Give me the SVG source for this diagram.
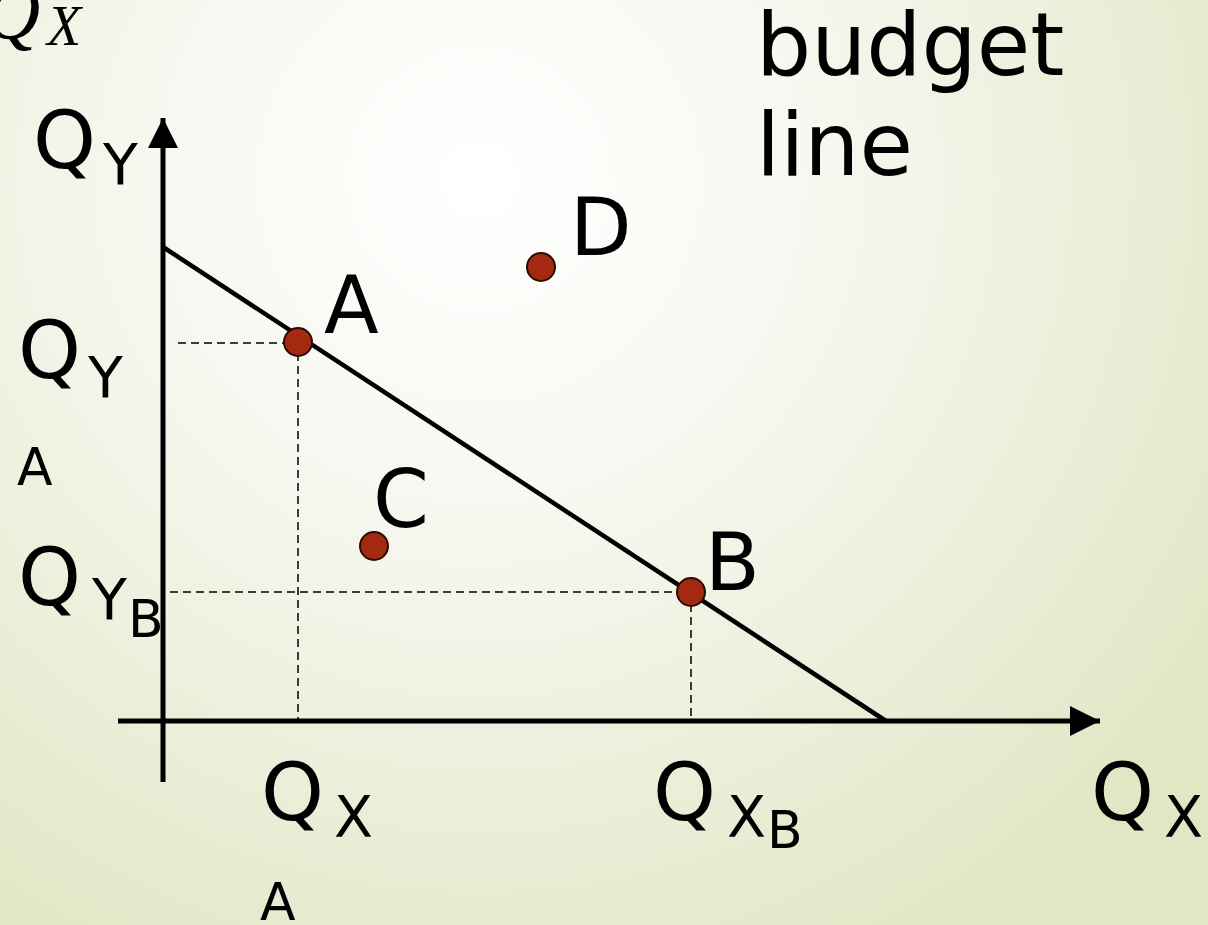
<svg xmlns="http://www.w3.org/2000/svg" width="1208" height="925" viewBox="0 0 1208 925">
<defs>
<radialGradient id="bg" cx="480" cy="180" r="900" gradientUnits="userSpaceOnUse">
<stop offset="0" stop-color="#ffffff"/>
<stop offset="0.35" stop-color="#f7f8f1"/>
<stop offset="1" stop-color="#dfe7c4"/>
</radialGradient>
<marker id="arr" viewBox="0 0 10 10" refX="10" refY="5" markerWidth="6" markerHeight="6" markerUnits="strokeWidth" orient="auto">
<path d="M0,0 L10,5 L0,10 Z" fill="#000"/>
</marker>
<style>
.t{font-family:"DejaVu Sans","Liberation Sans",sans-serif;fill:#000}
.big{font-size:80px}
.sub{font-size:57px}
.mid{font-size:52px}
.axis{stroke:#000;stroke-width:5;fill:none}
.dash{stroke:#000;stroke-width:1.5;stroke-dasharray:8 5;fill:none}
.pt{fill:#a32a10;stroke:#2a0a00;stroke-width:2}
</style>
</defs>
<rect width="1208" height="925" fill="url(#bg)"/>
<text x="-16" y="38" font-family="Liberation Serif,serif" font-style="italic" font-size="78">Q</text>
<text x="47" y="45" font-family="Liberation Serif,serif" font-style="italic" font-size="56">X</text>
<g id="connectors">
<line class="axis" x1="163" y1="782" x2="163" y2="118" marker-end="url(#arr)"/>
<line class="axis" x1="118" y1="721" x2="1100" y2="721" marker-end="url(#arr)"/>
<line x1="163" y1="247" x2="886" y2="721" stroke="#000" stroke-width="4.5"/>
<polyline class="dash" points="178,343 298,343 298,721"/>
<polyline class="dash" points="170,592 691,592 691,721"/>
</g>
<g id="budget-label"><text class="t" x="756" y="75" font-size="87">budget</text><text class="t" x="756" y="175" font-size="87">line</text></g>
<g id="axis-y-label"><text class="t big" x="33" y="168">Q</text><text class="t sub" x="103" y="185">Y</text></g>
<g id="axis-x-label"><text class="t big" x="1091" y="820">Q</text><text class="t sub" x="1164" y="837">X</text></g>
<g id="qya"><text class="t big" x="18" y="378">Q</text><text class="t sub" x="88" y="398">Y</text><text class="t mid" x="17" y="485">A</text></g>
<g id="qyb"><text class="t big" x="18" y="605">Q</text><text class="t sub" x="92" y="620">Y</text><text class="t mid" x="128" y="637">B</text></g>
<g id="qxa"><text class="t big" x="261" y="820">Q</text><text class="t sub" x="334" y="837">X</text><text class="t mid" x="260" y="920">A</text></g>
<g id="qxb"><text class="t big" x="653" y="820">Q</text><text class="t sub" x="727" y="837">X</text><text class="t mid" x="767" y="848">B</text></g>
<g id="pointA"><circle class="pt" cx="298" cy="342" r="14"/><text class="t big" x="324" y="333">A</text></g>
<g id="pointB"><circle class="pt" cx="691" cy="592" r="14"/><text class="t big" x="705" y="590">B</text></g>
<g id="pointC"><circle class="pt" cx="374" cy="546" r="14"/><text class="t big" x="373" y="527">C</text></g>
<g id="pointD"><circle class="pt" cx="541" cy="267" r="14"/><text class="t big" x="570" y="255">D</text></g>
</svg>
